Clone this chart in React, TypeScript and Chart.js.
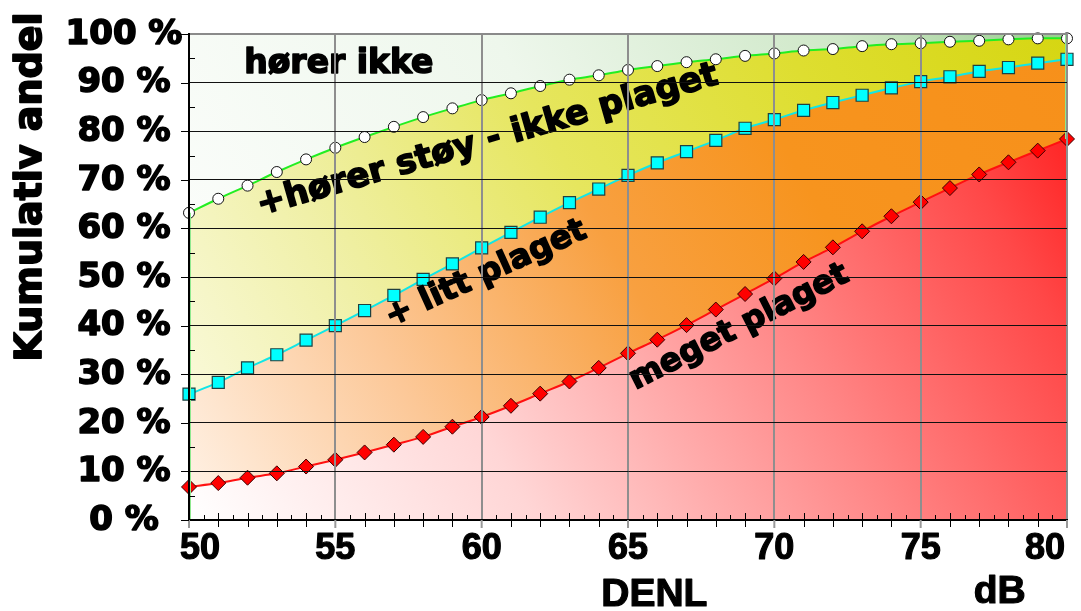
import React, { useEffect, useRef } from 'react';
import { Chart, registerables } from 'chart.js';

Chart.register(...registerables);

// ---------- data ----------
const dbLevels = [50, 51, 52, 53, 54, 55, 56, 57, 58, 59, 60, 61, 62, 63, 64, 65, 66, 67, 68, 69, 70, 71, 72, 73, 74, 75, 76, 77, 78, 79, 80];
// cumulative share: hører støy (all who hear the noise)
const horerStoyPct = [63.2, 66.1, 68.8, 71.6, 74.2, 76.6, 78.8, 80.9, 82.9, 84.7, 86.4, 87.8, 89.3, 90.6, 91.5, 92.6, 93.4, 94.2, 94.8, 95.5, 96.0, 96.6, 96.9, 97.5, 97.9, 98.1, 98.4, 98.6, 98.9, 99.1, 99.1];
// cumulative share: litt plaget (+ meget plaget)
const littPlagetPct = [25.9, 28.3, 31.3, 34.0, 37.0, 40.0, 43.1, 46.2, 49.5, 52.7, 56.0, 59.2, 62.3, 65.3, 68.1, 70.9, 73.5, 75.8, 78.1, 80.6, 82.4, 84.3, 85.9, 87.4, 88.9, 90.2, 91.2, 92.3, 93.1, 94.0, 94.8];
// share: meget plaget
const megetPlagetPct = [6.8, 7.6, 8.7, 9.6, 11.0, 12.4, 13.9, 15.5, 17.1, 19.2, 21.2, 23.5, 26.0, 28.5, 31.3, 34.3, 37.1, 40.1, 43.3, 46.5, 49.7, 53.1, 56.1, 59.4, 62.5, 65.4, 68.3, 71.1, 73.6, 76.0, 78.4];

const yTickValues = [0, 10, 20, 30, 40, 50, 60, 70, 80, 90, 100];
const yTickLabels = ['0 %', '10 %', '20 %', '30 %', '40 %', '50 %', '60 %', '70 %', '80 %', '90 %', '100 %'];
const xTickValues = [50, 55, 60, 65, 70, 75, 80];
const xTickLabels = ['50', '55', '60', '65', '70', '75', '80'];

const yAxisTitle = 'Kumulativ andel';
const xAxisTitle = 'DENL';
const xUnit = 'dB';

// region labels: [text, x (dB), y (%), angle (deg)]
const regionLabels: [string, number, number, number][] = [
  ['hører ikke', 55.12, 93.8, 0],
  ['+hører støy - ikke plaget', 60.2, 78.0, -16],
  ['+ litt plaget', 60.15, 50.6, -24.5],
  ['meget plaget', 68.8, 39.6, -27],
];

// ---------- helpers ----------
const HEAVY = '"DejaVu Sans", "Liberation Sans", sans-serif';
const AXISF = '"Liberation Sans", Arial, sans-serif';

function diag(chart: any, stops: [number, string][]) {
  const a = chart.chartArea;
  if (!a) return 'rgba(0,0,0,0)';
  const g = chart.ctx.createLinearGradient(a.left, a.bottom, a.right, a.top);
  stops.forEach(([o, c]) => g.addColorStop(o, c));
  return g;
}

const pts = (vals: number[]) => dbLevels.map((x, i) => ({ x, y: vals[i] }));

function heavyText(ctx: CanvasRenderingContext2D, t: string, x: number, y: number, w: number) {
  ctx.lineWidth = w;
  ctx.lineJoin = 'round';
  ctx.strokeStyle = '#000';
  ctx.strokeText(t, x, y);
  ctx.fillText(t, x, y);
}

const decorPlugin = {
  id: 'decor',
  beforeDraw(chart: any) {
    const { ctx, chartArea: a } = chart;
    ctx.save();
    ctx.fillStyle = '#ffffff';
    ctx.fillRect(0, 0, chart.width, chart.height);
    const g = ctx.createLinearGradient(a.left, a.bottom, a.right, a.top);
    g.addColorStop(0, '#ffffff');
    g.addColorStop(0.5, '#eef7ec');
    g.addColorStop(0.8, '#cfe8c8');
    g.addColorStop(1, '#98cc8e');
    ctx.fillStyle = g;
    ctx.fillRect(a.left, a.top, a.right - a.left, a.bottom - a.top);
    ctx.restore();
  },
  afterDatasetsDraw(chart: any) {
    const { ctx } = chart;
    const xs = chart.scales.x;
    const ys = chart.scales.y;
    ctx.save();
    ctx.fillStyle = '#000';
    ctx.textAlign = 'center';
    ctx.textBaseline = 'middle';
    regionLabels.forEach(([t, xv, yv, ang], i) => {
      ctx.save();
      ctx.translate(xs.getPixelForValue(xv), ys.getPixelForValue(yv));
      ctx.rotate((ang * Math.PI) / 180);
      ctx.font = `bold ${i === 0 ? 33 : i === 1 ? 34 : 32}px ${HEAVY}`;
      heavyText(ctx, t, 0, 0, 1.6);
      ctx.restore();
    });
    // area outline on left/right edges
    ctx.strokeStyle = '#8fe88f';
    ctx.lineWidth = 2;
    ctx.beginPath();
    ctx.moveTo(xs.getPixelForValue(dbLevels[0]) + 1, ys.getPixelForValue(0));
    ctx.lineTo(xs.getPixelForValue(dbLevels[0]) + 1, ys.getPixelForValue(horerStoyPct[0]));
    ctx.stroke();
    ctx.beginPath();
    const xr = xs.getPixelForValue(dbLevels[dbLevels.length - 1]) - 1;
    ctx.moveTo(xr, ys.getPixelForValue(100));
    ctx.lineTo(xr, ys.getPixelForValue(megetPlagetPct[megetPlagetPct.length - 1]));
    ctx.stroke();
    ctx.restore();
  },
  afterDraw(chart: any) {
    const { ctx, chartArea: a } = chart;
    const xs = chart.scales.x;
    const ys = chart.scales.y;
    ctx.save();
    // x tick marks
    ctx.strokeStyle = '#000';
    ctx.lineWidth = 1;
    for (let v = 50; v <= 80; v += 0.5) {
      if (v % 5 === 0) continue;
      const px = Math.round(xs.getPixelForValue(v)) + 0.5;
      ctx.beginPath();
      if (Number.isInteger(v)) {
        ctx.moveTo(px, a.bottom - 7);
        ctx.lineTo(px, a.bottom + 7);
      } else {
        ctx.moveTo(px, a.bottom - 5);
        ctx.lineTo(px, a.bottom);
      }
      ctx.stroke();
    }
    ctx.strokeStyle = '#999';
    ctx.lineWidth = 2;
    xTickValues.forEach((v) => {
      const px = xs.getPixelForValue(v);
      ctx.beginPath();
      ctx.moveTo(px, a.bottom);
      ctx.lineTo(px, a.bottom + 8);
      ctx.stroke();
    });
    // y tick marks
    ctx.strokeStyle = '#000';
    ctx.lineWidth = 1;
    for (let v = 0; v <= 100; v += 5) {
      const py = Math.round(ys.getPixelForValue(v)) + 0.5;
      ctx.beginPath();
      if (v % 10 === 0) {
        ctx.moveTo(a.left - 8, py);
        ctx.lineTo(a.left, py);
      } else {
        ctx.moveTo(a.left, py);
        ctx.lineTo(a.left + 6, py);
      }
      ctx.stroke();
    }
    // y tick labels
    ctx.fillStyle = '#000';
    ctx.textAlign = 'center';
    ctx.textBaseline = 'middle';
    ctx.font = `bold 34px ${HEAVY}`;
    yTickValues.forEach((v, i) => {
      heavyText(ctx, yTickLabels[i], a.left - 65, ys.getPixelForValue(v) + 1, 1.6);
    });
    // x tick labels
    ctx.font = `bold 36px ${AXISF}`;
    xTickValues.forEach((v, i) => {
      let px = xs.getPixelForValue(v);
      if (i === 0) px += 11;
      if (i === xTickValues.length - 1) px -= 22;
      heavyText(ctx, xTickLabels[i], px, a.bottom + 29, 1.2);
    });
    // axis titles
    ctx.font = `bold 39px ${AXISF}`;
    heavyText(ctx, xAxisTitle, xs.getPixelForValue(65.9), a.bottom + 75, 1.2);
    heavyText(ctx, xUnit, xs.getPixelForValue(77.7), a.bottom + 72, 1.2);
    ctx.save();
    ctx.translate(31, 187);
    ctx.rotate(-Math.PI / 2);
    ctx.font = `bold 38px ${HEAVY}`;
    heavyText(ctx, yAxisTitle, 0, 0, 1.8);
    ctx.restore();
    ctx.restore();
  },
};

export default function App() {
  const ref = useRef<HTMLCanvasElement>(null);

  useEffect(() => {
    if (!ref.current) return;
    const chart = new Chart(ref.current, {
      type: 'line',
      data: {
        datasets: [
          {
            label: 'meget plaget',
            data: pts(megetPlagetPct),
            order: 0,
            borderColor: '#ff1010',
            borderWidth: 2,
            backgroundColor: (c: any) =>
              diag(c.chart, [
                [0, '#ffffff'],
                [0.3, '#ffd6d6'],
                [0.6, '#ff8a8a'],
                [0.85, '#ff4848'],
                [1, '#ff1414'],
              ]),
            fill: 'origin',
            pointStyle: 'rectRot',
            pointRadius: 7.5,
            pointBackgroundColor: '#ff0000',
            pointBorderColor: '#3a0000',
            pointBorderWidth: 1,
            cubicInterpolationMode: 'monotone',
            clip: false,
          },
          {
            label: 'litt plaget',
            data: pts(littPlagetPct),
            order: 1,
            borderColor: '#10e6e6',
            borderWidth: 2,
            backgroundColor: (c: any) =>
              diag(c.chart, [
                [0, '#fff3e8'],
                [0.25, '#fcc898'],
                [0.5, '#f8a040'],
                [0.7, '#f7941e'],
                [1, '#f7901a'],
              ]),
            fill: 'origin',
            pointStyle: 'rect',
            pointRadius: 8.5,
            pointBackgroundColor: '#00ffff',
            pointBorderColor: '#204040',
            pointBorderWidth: 1.2,
            cubicInterpolationMode: 'monotone',
            clip: false,
          },
          {
            label: 'hører støy',
            data: pts(horerStoyPct),
            order: 2,
            borderColor: '#22ee22',
            borderWidth: 2,
            backgroundColor: (c: any) =>
              diag(c.chart, [
                [0, '#fcfce8'],
                [0.25, '#f0f0a8'],
                [0.5, '#e6e65e'],
                [0.75, '#dede30'],
                [1, '#d6d612'],
              ]),
            fill: 'origin',
            pointStyle: 'circle',
            pointRadius: 5.5,
            pointBackgroundColor: '#ffffff',
            pointBorderColor: '#111111',
            pointBorderWidth: 1,
            cubicInterpolationMode: 'monotone',
            clip: false,
          },
        ],
      },
      options: {
        animation: false,
        responsive: false,
        devicePixelRatio: 1,
        layout: { padding: { top: 34, right: 14, left: 0, bottom: 0 } },
        plugins: {
          legend: { display: false },
          tooltip: { enabled: false },
          title: { display: false },
        },
        scales: {
          x: {
            type: 'linear',
            min: 50,
            max: 80,
            z: 1,
            ticks: { stepSize: 5, display: false, z: 1 },
            grid: { color: '#8e8e8e', lineWidth: 2, drawTicks: false, z: 1 },
            border: { display: true, color: '#000000', width: 2, z: 2 },
            afterFit: (s: any) => {
              s.height = 91;
            },
          },
          y: {
            type: 'linear',
            min: 0,
            max: 100,
            z: 1,
            ticks: { stepSize: 10, display: false, z: 1 },
            grid: {
              color: (c: any) => (c.tick && c.tick.value === 100 ? '#8a8a8a' : '#111111'),
              lineWidth: (c: any) => (c.tick && c.tick.value === 100 ? 2 : 1),
              drawTicks: false,
              z: 1,
            },
            border: { display: true, color: '#000000', width: 2, z: 2 },
            afterFit: (s: any) => {
              s.width = 189;
            },
          },
        },
      } as any,
      plugins: [decorPlugin],
    });
    return () => chart.destroy();
  }, []);

  return (
    <div style={{ position: 'absolute', left: 0, top: 0, width: 1081, height: 611 }}>
      <canvas ref={ref} width={1081} height={611} style={{ width: 1081, height: 611, display: 'block' }} />
    </div>
  );
}
